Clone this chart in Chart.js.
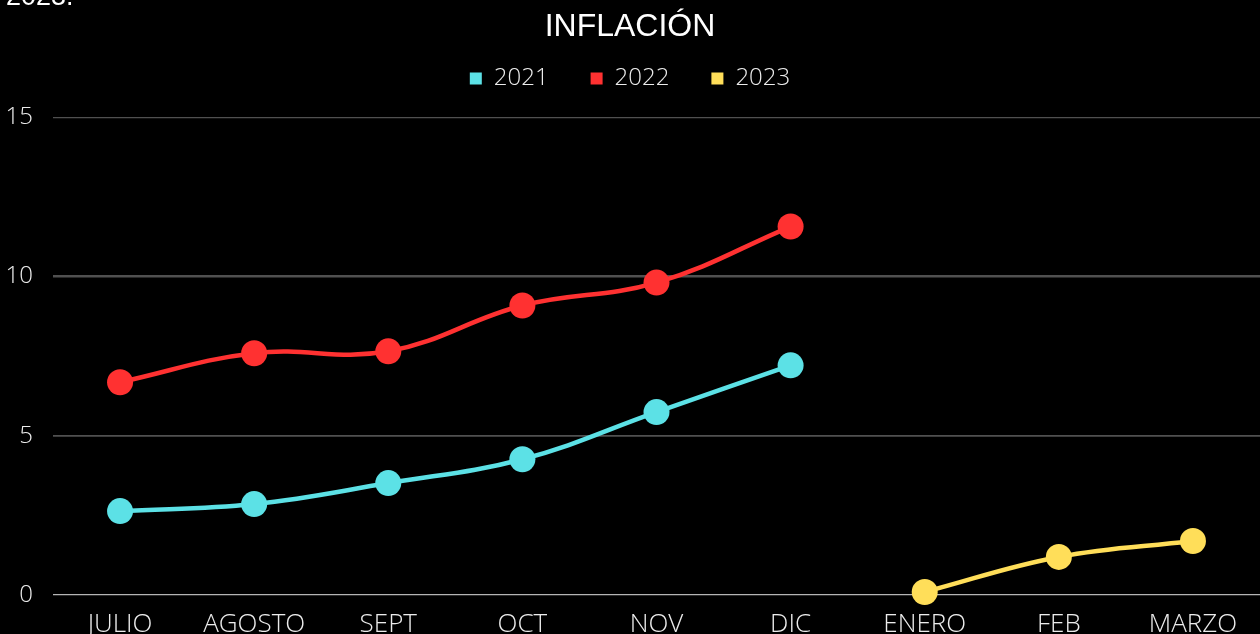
<!DOCTYPE html>
<html>
<head>
<meta charset="utf-8">
<script src="https://cdn.jsdelivr.net/npm/chart.js@4"></script>
<style>
  html, body { margin: 0; padding: 0; background: #000; overflow: hidden; width: 1260px; height: 634px; }
  #wrap { position: absolute; left: 0; top: 0; width: 1260px; height: 646px; }
  #note { position: absolute; left: 6px; top: -19px; color: #fff; font: 27px "Liberation Sans", Arial, sans-serif; }
</style>
</head>
<body>
<div id="wrap"><canvas id="chart"></canvas></div>
<div id="note">2023.</div>
<script>
// months shown on the x axis
const months = ["JULIO", "AGOSTO", "SEPT", "OCT", "NOV", "DIC", "ENERO", "FEB", "MARZO"];
// monthly inflation
const serie2021 = [2.63, 2.85, 3.51, 4.26, 5.74, 7.21, null, null, null];
const serie2022 = [6.68, 7.59, 7.65, 9.09, 9.81, 11.57, null, null, null];
const serie2023 = [null, null, null, null, null, null, 0.09, 1.19, 1.69];
const yTicks = [0, 5, 10, 15];

const tickFont = { family: "Open Sans", size: 24, weight: 300 };

function makeSet(label, data, color) {
    return {
        label: label,
        data: data,
        borderColor: color,
        backgroundColor: color,
        pointBackgroundColor: color,
        pointBorderWidth: 0,
        pointRadius: 13,
        pointHoverRadius: 13,
        borderWidth: 4.5,
        tension: 0.4,
        spanGaps: false,
        clip: false
    };
}

// extra room between the legend and the plot
const legendSpacing = {
    id: "legendSpacing",
    beforeInit(chart) {
        const fit = chart.legend.fit;
        chart.legend.fit = function () {
            fit.call(this);
            this.height += 17;
        };
    }
};

// gridline widths differ a little in the original
function gridWidth(c) {
    if (!c.tick) return 1;
    if (c.tick.value === 10) return 2.6;
    if (c.tick.value === 5) return 1.8;
    return 1.2;
}

const ctx = document.getElementById("chart").getContext("2d");
new Chart(ctx, {
    type: "line",
    data: {
        labels: months,
        datasets: [
            makeSet("2021", serie2021, "#5ce1e6"),
            makeSet("2022", serie2022, "#ff3131"),
            makeSet("2023", serie2023, "#ffde59")
        ]
    },
    plugins: [legendSpacing],
    options: {
        responsive: true,
        maintainAspectRatio: false,
        animation: false,
        layout: { autoPadding: false, padding: { top: 8, right: 0, left: 0, bottom: 0 } },
        plugins: {
            title: {
                display: true,
                text: "INFLACIÓN",
                color: "#fff",
                font: { family: "Liberation Sans", size: 32, weight: "normal" },
                padding: { top: 0, bottom: -22 }
            },
            legend: {
                labels: {
                    color: "#ececec",
                    font: tickFont,
                    usePointStyle: true,
                    pointStyle: "rect",
                    boxWidth: 12,
                    boxHeight: 12,
                    padding: 42
                }
            },
            tooltip: { enabled: false }
        },
        scales: {
            x: {
                offset: true,
                grid: { display: false },
                border: { display: false },
                ticks: { color: "#ececec", font: { family: "Open Sans", size: 26, weight: 300 }, padding: 6, maxRotation: 0 }
            },
            y: {
                min: 0,
                max: 15,
                afterBuildTicks: axis => { axis.ticks = yTicks.map(v => ({ value: v })); },
                afterFit: axis => { axis.width = 53; },
                border: { display: false },
                grid: {
                    drawTicks: false,
                    color: c => c.tick && c.tick.value === 0 ? "#b4b4b4" : "#505050",
                    lineWidth: gridWidth
                },
                ticks: { color: "#ececec", font: tickFont, padding: 20 }
            }
        }
    }
});
</script>
</body>
</html>
